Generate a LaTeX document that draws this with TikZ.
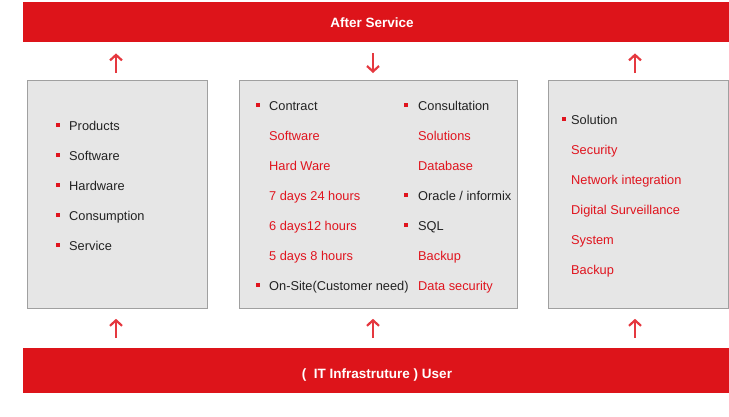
\documentclass[tikz,border=0pt]{standalone}
\usepackage{fontspec}
\setmainfont{Liberation Sans}
\usetikzlibrary{arrows.meta}
\definecolor{barred}{HTML}{DD141A}
\definecolor{txtred}{HTML}{E0141E}
\definecolor{arrred}{HTML}{E5383F}
\definecolor{boxfill}{HTML}{E6E6E6}
\definecolor{boxline}{HTML}{A0A0A0}
\definecolor{txtdark}{HTML}{222222}
\tikzset{
  bar/.style={fill=barred, draw=none, minimum width=706pt, anchor=north west, inner sep=0pt},
  bartext/.style={text=white, inner sep=0pt, anchor=base, font=\fontsize{13.5}{15}\selectfont\bfseries},
  panel/.style={fill=boxfill, draw=boxline, line width=0.8pt, anchor=north west, inner sep=0pt},
  item/.style={anchor=base west, inner sep=0pt, text=txtdark, font=\fontsize{12.8}{14}\selectfont},
  sub/.style={item, text=txtred},
  bul/.style={fill=txtred, draw=none, minimum size=4pt, inner sep=0pt},
  arr/.style={draw=arrred, line width=2pt, -{Straight Barb[length=5.5pt,width=12pt,line width=2.2pt]}}
}
\begin{document}
\begin{tikzpicture}[x=1pt,y=-1pt]
\useasboundingbox (0,0) rectangle (729,416);
% bars
\node[bar, minimum height=40pt] (top) at (23,2) {};
\node[bartext] (toptext) at (372,27) {After Service};
\node[bar, minimum height=45pt] (bot) at (23,348) {};
\node[bartext] (bottext) at (377,378) {(\ \ IT Infrastruture ) User};
% panels
\node[panel, minimum width=180pt, minimum height=228pt] (lbox) at (27,80) {};
\node[panel, minimum width=278pt, minimum height=228pt] (mbox) at (239,80) {};
\node[panel, minimum width=180pt, minimum height=228pt] (rbox) at (548,80) {};
% arrows top
\draw[arr, shorten <=7pt, shorten >=11pt] (lbox.north -| 116,0) -- (top.south -| 116,0);
\draw[arr, shorten <=11pt, shorten >=7pt] (top.south -| 373,0) -- (mbox.north -| 373,0);
\draw[arr, shorten <=7pt, shorten >=11pt] (rbox.north -| 635,0) -- (top.south -| 635,0);
% arrows bottom
\draw[arr, shorten <=10pt, shorten >=10pt] (bot.north -| 116,0) -- (lbox.south -| 116,0);
\draw[arr, shorten <=10pt, shorten >=10pt] (bot.north -| 373,0) -- (mbox.south -| 373,0);
\draw[arr, shorten <=10pt, shorten >=10pt] (bot.north -| 635,0) -- (rbox.south -| 635,0);
% left panel
\foreach \t [count=\i] in {Products,Software,Hardware,Consumption,Service}{
  \node[bul] (lb\i) at (58,94.5+30*\i) {};
  \node[item] (lt\i) at (69,100+30*\i) {\t};
}
% middle panel, left column
\node[bul] (mb1) at (258,104.5) {};
\node[item] (m1) at (269,110) {Contract};
\node[sub] (m2) at (269,140) {Software};
\node[sub] (m3) at (269,170) {Hard Ware};
\node[sub] (m4) at (269,200) {7 days 24 hours};
\node[sub] (m5) at (269,230) {6 days12 hours};
\node[sub] (m6) at (269,260) {5 days 8 hours};
\node[bul] (mb7) at (258,284.5) {};
\node[item] (m7) at (269,290) {On-Site(Customer need)};
% middle panel, right column
\node[bul] (nb1) at (406,104.5) {};
\node[item] (n1) at (418,110) {Consultation};
\node[sub] (n2) at (418,140) {Solutions};
\node[sub] (n3) at (418,170) {Database};
\node[bul] (nb4) at (406,194.5) {};
\node[item] (n4) at (418,200) {Oracle / informix};
\node[bul] (nb5) at (406,224.5) {};
\node[item] (n5) at (418,230) {SQL};
\node[sub] (n6) at (418,260) {Backup};
\node[sub] (n7) at (418,290) {Data security};
% right panel
\node[bul] (rb1) at (564,118.5) {};
\node[item] (r1) at (571,124) {Solution};
\node[sub] (r2) at (571,154) {Security};
\node[sub] (r3) at (571,184) {Network integration};
\node[sub] (r4) at (571,214) {Digital Surveillance};
\node[sub] (r5) at (571,244) {System};
\node[sub] (r6) at (571,274) {Backup};
\end{tikzpicture}
\end{document}
